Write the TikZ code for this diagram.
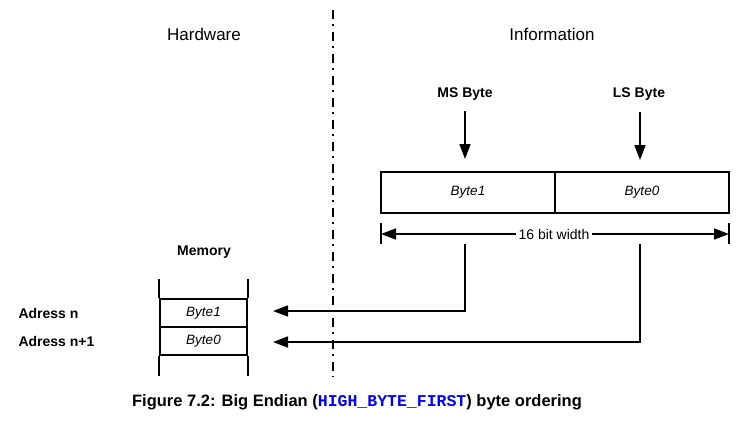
\documentclass[tikz,border=0pt]{standalone}
\usepackage{fontspec}
\setmainfont{Liberation Sans}
\setmonofont{Liberation Mono}
\usetikzlibrary{arrows.meta}
\begin{document}
\begin{tikzpicture}[x=1pt,y=-1pt,
  ln/.style={line width=1.6pt},
  arr/.style={ln,-{Triangle[length=15pt,width=11pt]}},
  cell/.style={draw,line width=1.6pt,minimum width=#1,minimum height=41pt,inner sep=0pt,font=\fontsize{13.5}{15}\selectfont\itshape},
  mcell/.style={draw,line width=1.6pt,minimum width=87pt,minimum height=28pt,inner sep=0pt,font=\fontsize{13.5}{15}\selectfont\itshape},
  head/.style={font=\fontsize{17}{20}\selectfont},
  lab/.style={font=\fontsize{14}{16}\selectfont\bfseries},
  divider/.style={line width=1.8pt,dash pattern=on 9pt off 5pt on 2pt off 6pt}]
\useasboundingbox (0,0) rectangle (748,424);
% divider
\coordinate (dvt) at (333,10);
\coordinate (dvb) at (333,377);
\draw[divider] (dvt) -- (dvb);
% headings
\node[head] (hw) at (204,34) {Hardware};
\node[head] (info) at (552,34) {Information};
% MS/LS byte labels and arrows
\node[lab] (ms) at (465,94) {MS Byte};
\node[lab] (ls) at (639,94) {LS Byte};
\coordinate (msa) at (465,111);
\coordinate (msb) at (465,159);
\coordinate (lsa) at (640,112);
\coordinate (lsb) at (640,160);
\draw[arr] (msa) -- (msb);
\draw[arr] (lsa) -- (lsb);
% register
\node[cell=174pt] (b1) at (468,192.5) {Byte1};
\node[cell=174pt] (b0) at (642,192.5) {Byte0};
% dimension
\coordinate (dl) at (381,234);
\coordinate (dr) at (729,234);
\draw[ln] (381,223) -- (381,244);
\draw[ln] (729,223) -- (729,244);
\node[fill=white,inner sep=2pt,font=\fontsize{14}{16}\selectfont] (dim) at (554,234) {16 bit width};
\draw[arr] (dim.west) -- (dl);
\draw[arr] (dim.east) -- (dr);
% memory
\node[lab] (mem) at (204,252) {Memory};
\node[mcell] (m1) at (203.5,313) {Byte1};
\node[mcell] (m0) at (203.5,341) {Byte0};
\draw[ln] (m1.north west) -- ++(0,-19);
\draw[ln] (m1.north east) -- ++(0,-19);
\draw[ln] (m0.south west) -- ++(0,20);
\draw[ln] (m0.south east) -- ++(0,20);
\node[lab,anchor=west] (an) at (15,313) {Adress n};
\node[lab,anchor=west] (an1) at (15,341) {Adress n+1};
% connectors
\coordinate (c1) at (465,244);
\coordinate (c0) at (640,244);
\coordinate (t1) at (273,311);
\coordinate (t0) at (273,342);
\draw[arr] (c1) |- (t1);
\draw[arr] (c0) |- (t0);
% caption
\node[font=\fontsize{16.5}{19}\selectfont\bfseries] (cap) at (357,402)
  {Figure 7.2: Big Endian (\textcolor{blue}{\ttfamily HIGH\_BYTE\_FIRST}) byte ordering};
\end{tikzpicture}
\end{document}
